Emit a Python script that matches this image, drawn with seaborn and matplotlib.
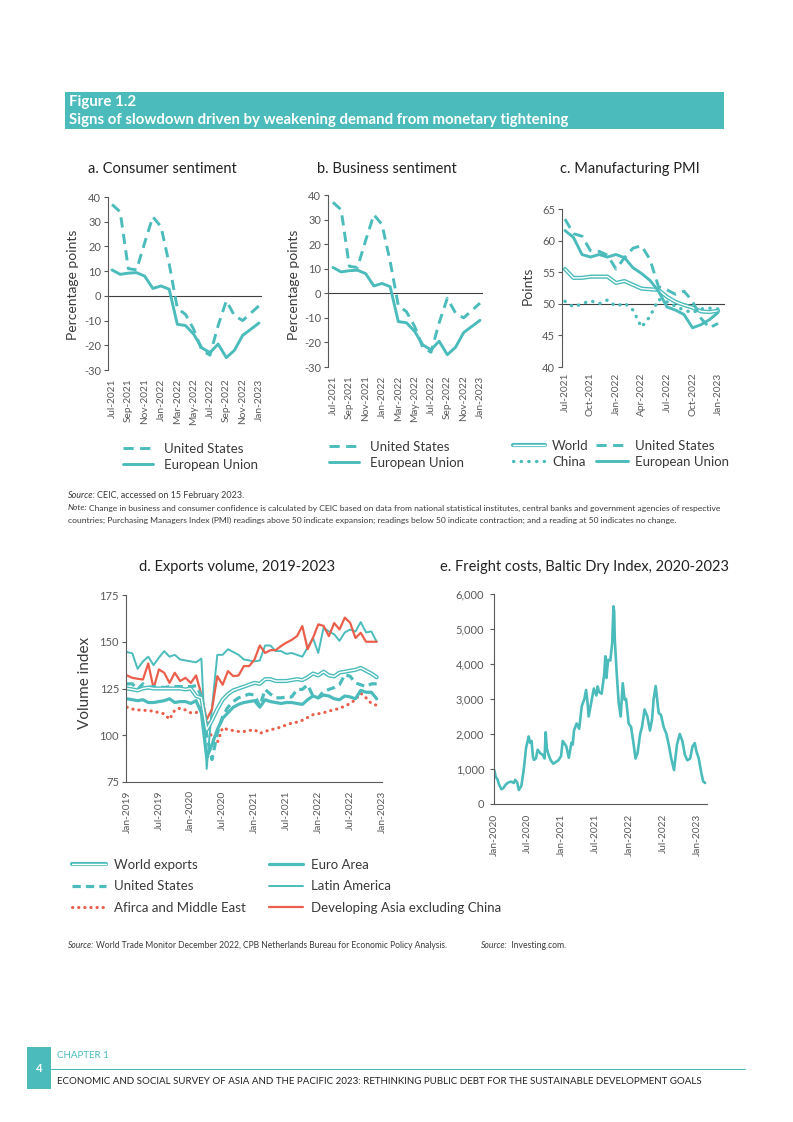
import matplotlib
matplotlib.use("Agg")
import matplotlib.pyplot as plt
import matplotlib.patheffects as pe
import matplotlib.ticker as mticker
from matplotlib.patches import Rectangle
from matplotlib.lines import Line2D
import seaborn as sns
import pandas as pd
import numpy as np

sns.set_theme(style="white")
plt.rcParams["font.family"] = ["Lato", "DejaVu Sans"]
plt.rcParams["axes.unicode_minus"] = False

W, H = 793, 1122
TEAL = "#4BBCBB"
RED = "#EA5F4B"
GREY = "#595959"
DARK = "#3A3A3A"

# ---------------- data ----------------
months_abc = ["Jul-2021", "Aug-2021", "Sep-2021", "Oct-2021", "Nov-2021", "Dec-2021",
              "Jan-2022", "Feb-2022", "Mar-2022", "Apr-2022", "May-2022", "Jun-2022",
              "Jul-2022", "Aug-2022", "Sep-2022", "Oct-2022", "Nov-2022", "Dec-2022",
              "Jan-2023"]

# a. consumer sentiment (percentage points)
us_consumer = [37, 34, 11, 10.5, 21.5, 32, 28, 13, -5, -7.5, -13.5, -22, -24, -12, -2, -8, -10, -7, -4]
eu_consumer = [10.5, 8.7, 9.2, 9.4, 8, 3, 4, 2.7, -11.5, -12, -15.5, -21, -23, -19.5, -25, -22, -16, -13.5, -11]

# b. business sentiment (percentage points)
us_business = [37, 34, 11, 10.5, 21.5, 32, 28, 13, -5, -7.5, -13.5, -22, -24, -12, -2, -8, -10, -7, -4]
eu_business = [10.5, 8.7, 9.2, 9.4, 8, 3, 4, 2.7, -11.5, -12, -15.5, -21, -23, -19.5, -25, -22, -16, -13.5, -11]

# c. manufacturing PMI (points)
world_pmi = [55.5, 54.1, 54.1, 54.3, 54.3, 54.3, 53.3, 53.6, 53.0, 52.4, 52.3, 52.2, 51.1, 50.3, 49.8, 49.4, 48.8, 48.7, 48.9]
us_pmi = [63.4, 61.1, 60.7, 58.4, 58.3, 57.7, 55.5, 57.3, 58.8, 59.2, 57.0, 52.7, 52.2, 51.5, 52.0, 50.4, 47.7, 46.2, 46.9]
china_pmi = [50.4, 49.5, 50.0, 50.5, 50.0, 50.6, 49.6, 50.1, 49.0, 46.3, 48.0, 50.7, 50.3, 49.6, 49.0, 48.6, 49.2, 49.3, 49.2]
eu_pmi = [61.6, 60.5, 57.8, 57.4, 57.8, 57.4, 57.8, 57.3, 55.7, 54.8, 53.7, 52.0, 49.5, 49.0, 48.3, 46.2, 46.7, 47.5, 48.6]

# d. exports volume, Jan-2019 .. Dec-2022 (volume index)
months_d = pd.date_range("2019-01-01", periods=48, freq="MS")
world_exports = [125, 124.5, 124, 125, 125.5, 125, 125, 125, 125, 125, 125, 124.5,
                 125, 121, 120, 103, 108, 114, 119, 122, 124, 125, 126, 127,
                 128, 127.5, 130, 130, 129, 129, 129, 129.5, 130, 129.5, 131, 133,
                 132, 134, 132, 131.5, 133.5, 134, 134.5, 135, 136, 134.5, 133, 131]
us_exports = [127.5, 127.5, 124.5, 127.5, 125.5, 126, 126, 125.5, 126, 126, 126, 126,
              126, 126.5, 121, 100, 87, 101, 110, 115, 118, 120, 121, 122,
              121.5, 115.5, 124.5, 122, 120, 120, 120.5, 120.5, 124.5, 124.5, 127, 121,
              120, 123.5, 124.5, 125.5, 127, 132.5, 131.5, 128, 127, 126, 127.5, 127.5]
africa_me_exports = [115, 114, 113.5, 113.5, 113, 113, 112, 111.5, 108.5, 113.5, 114.5, 113.5,
                     112, 112, 115, 109, 98, 96, 104, 103, 102.5, 102, 102, 102.5,
                     103, 101, 102, 103, 103.5, 104.5, 105.5, 106.5, 107, 108, 109.5, 111,
                     111.5, 112, 113, 113.5, 114.5, 115.5, 117, 119, 122.5, 120, 117, 116]
euro_exports = [119.5, 119, 118.5, 119, 117.5, 117.5, 118, 118.5, 119.5, 117.5, 118, 118,
                117, 118.5, 112, 88, 95, 103, 109, 112, 115, 116.5, 117.5, 118,
                118.5, 115, 119, 118, 117.5, 117, 117.5, 117.5, 117, 116.5, 119, 121,
                120, 121.5, 121, 119.5, 119, 121, 120.5, 119.5, 124, 123, 123, 119.5]
latam_exports = [144.5, 143.8, 135.5, 139.5, 142, 137.5, 141.5, 145, 142, 143, 140.5, 140,
                 139.5, 139, 141, 82, 115, 143, 143, 146, 144.5, 143, 140.5, 140,
                 139.5, 140, 148, 148, 145, 145, 143.5, 144, 143, 142, 147, 152,
                 144, 157.5, 155.5, 154, 150.5, 155, 156.5, 155.5, 160.5, 155, 155.5, 150]
devasia_exports = [132, 130.7, 130.2, 129.8, 138.4, 125, 135.2, 133.4, 128, 133.4, 129, 130.7,
                   128, 132, 121.8, 108.4, 114, 131.6, 127, 134.3, 131.6, 132, 137, 137,
                   140.5, 148, 144, 145.5, 145.5, 147.7, 149.5, 151, 153, 158.4, 146, 152,
                   159.3, 158.5, 153, 160, 156.6, 162.9, 160.2, 152, 154.8, 150, 150, 150]
d_tick_labels = ["Jan-2019", "Jul-2019", "Jan-2020", "Jul-2020", "Jan-2021",
                 "Jul-2021", "Jan-2022", "Jul-2022", "Jan-2023"]

# e. Baltic Dry Index
bdi_dates = ["2020-01-02", "2020-01-10", "2020-01-20", "2020-01-28", "2020-02-10", "2020-02-20",
             "2020-03-05", "2020-03-20", "2020-04-03", "2020-04-17", "2020-04-24", "2020-05-05",
             "2020-05-14", "2020-05-28", "2020-06-10", "2020-06-22", "2020-07-06", "2020-07-14",
             "2020-07-22", "2020-07-29", "2020-08-04", "2020-08-14", "2020-08-24", "2020-09-07",
             "2020-09-21", "2020-09-30", "2020-10-06", "2020-10-12", "2020-10-19", "2020-11-02",
             "2020-11-16", "2020-11-30", "2020-12-14", "2020-12-28", "2021-01-06", "2021-01-13",
             "2021-01-25", "2021-02-08", "2021-02-22", "2021-03-01", "2021-03-08", "2021-03-22",
             "2021-04-05", "2021-04-19", "2021-05-03", "2021-05-12", "2021-05-20", "2021-05-26",
             "2021-06-09", "2021-06-23", "2021-07-07", "2021-07-14", "2021-07-21", "2021-08-04",
             "2021-08-18", "2021-08-24", "2021-08-30", "2021-09-08", "2021-09-20", "2021-09-30",
             "2021-10-07", "2021-10-11", "2021-10-14", "2021-10-25", "2021-11-04", "2021-11-15",
             "2021-11-26", "2021-12-06", "2021-12-14", "2021-12-28", "2022-01-10", "2022-01-24",
             "2022-02-03", "2022-02-14", "2022-02-28", "2022-03-10", "2022-03-24", "2022-04-08",
             "2022-04-22", "2022-05-03", "2022-05-12", "2022-05-23", "2022-06-08", "2022-06-20",
             "2022-07-05", "2022-07-20", "2022-08-03", "2022-08-15", "2022-08-30", "2022-09-15",
             "2022-09-30", "2022-10-14", "2022-10-28", "2022-11-10", "2022-11-25", "2022-12-08",
             "2022-12-20", "2022-12-29", "2023-01-10", "2023-01-24", "2023-02-03", "2023-02-14"]
bdi_values = [980, 780, 700, 560, 420, 450, 560, 620, 640, 600, 690, 620,
              400, 520, 1000, 1600, 1930, 1750, 1800, 1350, 1260, 1300, 1550, 1450,
              1400, 1300, 2050, 1600, 1450, 1250, 1150, 1200, 1250, 1370, 1800, 1750,
              1650, 1320, 1750, 1700, 2100, 2300, 2150, 2800, 3000, 3260, 2900, 2500,
              2900, 3300, 3100, 3360, 3200, 3150, 3700, 4220, 3600, 4120, 4100, 4600,
              5650, 5500, 4700, 3700, 2900, 2500, 3450, 2980, 3000, 2300, 2200, 1700,
              1300, 1450, 2000, 2200, 2700, 2500, 2100, 2400, 3000, 3370, 2600, 2550,
              2200, 2000, 1650, 1300, 970, 1700, 2000, 1800, 1400, 1250, 1300, 1650,
              1740, 1500, 1310, 900, 650, 600]
e_tick_dates = ["2020-01-01", "2020-07-01", "2021-01-01", "2021-07-01",
                "2022-01-01", "2022-07-01", "2023-01-01"]
e_tick_labels = ["Jan-2020", "Jul-2020", "Jan-2021", "Jul-2021", "Jan-2022", "Jul-2022", "Jan-2023"]

# ---------------- figure ----------------
fig = plt.figure(figsize=(W / 100, H / 100), dpi=100)


def box(x0, y0, x1, y1):
    return fig.add_axes([x0 / W, 1 - y1 / H, (x1 - x0) / W, (y1 - y0) / H])


def ftext(x, y, s, **kw):
    return fig.text(x / W, 1 - y / H, s, **kw)


def style(ax, bottom_spine, xpad):
    for s in ["top", "right"]:
        ax.spines[s].set_visible(False)
    ax.spines["bottom"].set_visible(bottom_spine)
    for s in ["left", "bottom"]:
        ax.spines[s].set_color(GREY)
        ax.spines[s].set_linewidth(0.8)
    ax.tick_params(axis="y", left=True, length=3, width=0.8, color=GREY,
                   labelsize=8, labelcolor=GREY, pad=2)
    ax.tick_params(axis="x", bottom=False, length=0, labelsize=7.3,
                   labelcolor=GREY, pad=xpad)
    ax.set_xlabel("")
    ax.set_ylabel("")
    ax.grid(False)
    ax.set_facecolor("none")


def legend(ax, x, y, handles=None, labels=None, ncol=1, hl=2.3, cs=0.7, ls=0.35, fs=9.5, tp=0.8):
    if handles is None:
        handles, labels = ax.get_legend_handles_labels()
    return ax.legend(handles, labels, loc="upper left", bbox_to_anchor=(x / W, 1 - y / H),
                     bbox_transform=fig.transFigure, ncol=ncol, frameon=False,
                     borderpad=0, borderaxespad=0, handlelength=hl, handletextpad=tp,
                     columnspacing=cs, labelspacing=ls, prop={"size": fs},
                     labelcolor=DARK)


DASH = (0, (3.5, 2.2))
DOT = (0, (0.1, 2.2))

# header
fig.add_artist(Rectangle((65 / W, 1 - 129 / H), (724 - 65) / W, 37 / H,
                         transform=fig.transFigure, color=TEAL, lw=0))
ftext(69, 102, "Figure 1.2", color="white", fontsize=10.8, fontweight="bold", va="center")
ftext(69, 120, "Signs of slowdown driven by weakening demand from monetary tightening",
      color="white", fontsize=10.8, fontweight="bold", va="center")

# panels a & b
idx = np.arange(len(months_abc))
for (x0, y0, x1, y1, xl, us, eu, title, tx, ylx, lgx, lgy, xpad) in [
        (108, 197, 262, 370, (-0.49, 18.37), us_consumer, eu_consumer,
         "a. Consumer sentiment", 162, 73, 123, 443, 6),
        (328, 195, 483, 367, (-0.61, 18.37), us_business, eu_business,
         "b. Business sentiment", 387, 294, 329, 441, 6)]:
    ax = box(x0, y0, x1, y1)
    sns.lineplot(x=idx, y=us, ax=ax, color=TEAL, lw=2.1, linestyle=DASH, label="United States")
    sns.lineplot(x=idx, y=eu, ax=ax, color=TEAL, lw=2.1, label="European Union")
    ax.axhline(0, color="#404040", lw=0.8, zorder=1)
    ax.set_xlim(*xl)
    ax.set_ylim(-30, 40)
    ax.set_yticks(range(-30, 41, 10))
    ax.set_xticks(idx[::2])
    ax.set_xticklabels(months_abc[::2], rotation=90)
    style(ax, False, xpad)
    legend(ax, lgx, lgy, hl=2.3, ls=0.3)
    ftext(tx, 169, title, fontsize=10.5, color="#222222", ha="center", va="center")
    ftext(ylx, 285, "Percentage points", fontsize=10, color=DARK, rotation=90,
          ha="center", va="center")

# panel c
ax = box(562, 209, 725, 367)
world_fx = [pe.Stroke(linewidth=3.0, foreground=TEAL), pe.Normal()]
sns.lineplot(x=idx, y=world_pmi, ax=ax, color="white", lw=1.0, path_effects=world_fx, label="World")
sns.lineplot(x=idx, y=us_pmi, ax=ax, color=TEAL, lw=2.1, linestyle=DASH, label="United States")
sns.lineplot(x=idx, y=china_pmi, ax=ax, color=TEAL, lw=2.4, linestyle=DOT,
             dash_capstyle="round", label="China")
sns.lineplot(x=idx, y=eu_pmi, ax=ax, color=TEAL, lw=2.1, label="European Union")
ax.axhline(50, color="#404040", lw=0.8, zorder=1)
ax.set_xlim(-0.35, 18.82)
ax.set_ylim(40, 65)
ax.set_yticks(range(40, 66, 5))
ax.set_xticks(idx[::3])
ax.set_xticklabels(months_abc[::3], rotation=90)
style(ax, False, 4)
hc, lc = ax.get_legend_handles_labels()
hcd = dict(zip(lc, hc))
order_c = ["World", "China", "United States", "European Union"]
legend(ax, 513, 440, handles=[hcd[k] for k in order_c], labels=order_c,
       ncol=2, hl=2.4, cs=0.6, ls=0.3, tp=0.55)
ftext(630, 169, "c. Manufacturing PMI", fontsize=10.5, color="#222222", ha="center", va="center")
ftext(528, 286, "Points", fontsize=10, color=DARK, rotation=90, ha="center", va="center")


# notes for a-c
def rich(x, y, prefix, rest, target=None, size=6.2):
    t1 = ftext(x, y, prefix, fontsize=size, style="italic", color=DARK, va="center")
    r = fig.canvas.get_renderer()
    bb = t1.get_window_extent(renderer=r)
    t2 = fig.text(bb.x1 / W + 1.5 / W, 1 - y / H, rest, fontsize=size, color=DARK, va="center")
    if target is not None:
        w = t2.get_window_extent(renderer=r).x1 - bb.x0
        s = size * (target - x) / w
        t1.set_fontsize(s)
        bb = t1.get_window_extent(renderer=r)
        t2.set_fontsize(s)
        t2.set_x(bb.x1 / W + 1.5 / W)
    return t2


rich(68, 495, "Source:", "CEIC, accessed on 15 February 2023.", target=247)
t = rich(68, 508, "Note:", "Change in business and consumer confidence is calculated by CEIC based on data "
         "from national statistical institutes, central banks and government agencies of respective",
         target=726)
ftext(68, 520, "countries; Purchasing Managers Index (PMI) readings above 50 indicate expansion; "
      "readings below 50 indicate contraction; and a reading at 50 indicates no change.",
      fontsize=t.get_fontsize(), color=DARK, va="center")

# panel d
ax = box(126, 595, 382, 782)
md = np.arange(len(months_d))
sns.lineplot(x=md, y=africa_me_exports, ax=ax, color=RED, lw=2.2, linestyle=(0, (0.1, 1.9)),
             dash_capstyle="round", label="Afirca and Middle East")
sns.lineplot(x=md, y=latam_exports, ax=ax, color=TEAL, lw=1.4, label="Latin America")
sns.lineplot(x=md, y=devasia_exports, ax=ax, color=RED, lw=1.6, label="Developing Asia excluding China")
sns.lineplot(x=md, y=euro_exports, ax=ax, color=TEAL, lw=2.3, label="Euro Area")
sns.lineplot(x=md, y=us_exports, ax=ax, color=TEAL, lw=2.3, linestyle=(0, (2.6, 1.6)), label="United States")
sns.lineplot(x=md, y=world_exports, ax=ax, color="white", lw=1.0, path_effects=world_fx,
             label="World exports")
ax.set_xlim(-0.19, 48)
ax.set_ylim(75, 175)
ax.set_yticks(range(75, 176, 25))
ax.set_xticks(range(0, 49, 6))
ax.set_xticklabels(d_tick_labels, rotation=90)
style(ax, True, 6)
hd_, ld_ = ax.get_legend_handles_labels()
hd = dict(zip(ld_, hd_))
order_d = ["World exports", "United States", "Afirca and Middle East",
           "Euro Area", "Latin America", "Developing Asia excluding China"]
legend(ax, 72, 859, handles=[hd[k] for k in order_d], labels=order_d, ncol=2,
       hl=2.6, cs=1.7, ls=0.72, tp=0.6)
ftext(237, 567, "d. Exports volume, 2019-2023", fontsize=10.5, color="#222222", ha="center", va="center")
ftext(85, 683, "Volume index", fontsize=11, color=DARK, rotation=90, ha="center", va="center")

# panel e
ax = box(494, 594, 707, 804)
df_e = pd.DataFrame({"date": pd.to_datetime(bdi_dates), "bdi": bdi_values})
sns.lineplot(data=df_e, x="date", y="bdi", ax=ax, color=TEAL, lw=1.9)
ax.set_xlim(pd.Timestamp("2020-01-01"), pd.Timestamp("2023-02-24"))
ax.set_ylim(0, 6000)
ax.set_yticks(range(0, 6001, 1000))
ax.yaxis.set_major_formatter(mticker.StrMethodFormatter("{x:,.0f}"))
ax.set_xticks(pd.to_datetime(e_tick_dates))
ax.set_xticklabels(e_tick_labels, rotation=90)
style(ax, True, 7)
ax.tick_params(axis="y", pad=4)
ftext(584, 567, "e. Freight costs, Baltic Dry Index, 2020-2023", fontsize=10.5, color="#222222",
      ha="center", va="center")

rich(68, 946, "Source:", "World Trade Monitor December 2022, CPB Netherlands Bureau for Economic Policy Analysis.",
     target=450)
rich(481, 946, "Source:", " Investing.com.", target=567)

# footer
fig.add_artist(Rectangle((27 / W, 1 - 1089 / H), 24 / W, 42 / H, transform=fig.transFigure,
                         color=TEAL, lw=0))
ftext(39, 1069, "4", color="white", fontsize=8, fontweight="bold", ha="center", va="center")
ftext(57, 1056, "CHAPTER 1", color=TEAL, fontsize=7, va="center")
fig.add_artist(Line2D([51 / W, 745 / W], [1 - 1069 / H, 1 - 1069 / H], transform=fig.transFigure,
                      color=TEAL, lw=0.8))
foot = ftext(57, 1082, "ECONOMIC AND SOCIAL SURVEY OF ASIA AND THE PACIFIC 2023: RETHINKING PUBLIC DEBT "
             "FOR THE SUSTAINABLE DEVELOPMENT GOALS", color="#222222", fontsize=6, va="center")
r = fig.canvas.get_renderer()
fw = foot.get_window_extent(renderer=r).width
foot.set_fontsize(6 * (706 - 57) / fw)

fig.savefig("out.png", dpi=100)
